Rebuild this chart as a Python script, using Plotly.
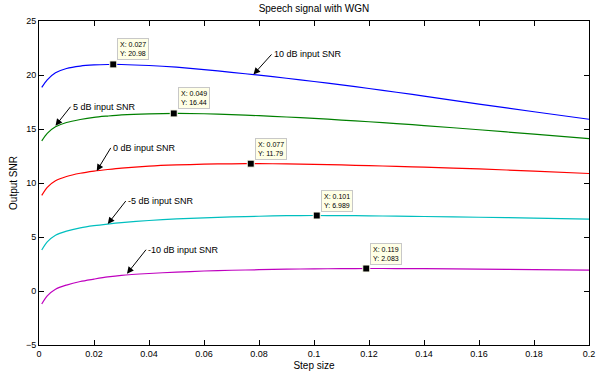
import plotly.graph_objects as go

# ---- data ----
step_size = [0.001, 0.003, 0.006, 0.01, 0.015, 0.02, 0.025, 0.03, 0.04, 0.05, 0.06,
             0.07, 0.08, 0.09, 0.1, 0.11, 0.12, 0.13, 0.14, 0.16, 0.18, 0.2]

snr_10db = [18.85, 19.55, 20.2, 20.6, 20.83, 20.93, 20.97, 20.97, 20.88, 20.72, 20.5,
            20.25, 19.98, 19.7, 19.4, 19.08, 18.75, 18.4, 18.05, 17.3, 16.6, 15.9]
snr_5db = [13.9, 14.6, 15.2, 15.6, 15.88, 16.08, 16.2, 16.3, 16.4, 16.44, 16.41,
           16.33, 16.23, 16.11, 15.98, 15.83, 15.67, 15.5, 15.32, 14.93, 14.52, 14.1]
snr_0db = [8.85, 9.6, 10.2, 10.6, 10.9, 11.1, 11.25, 11.38, 11.56, 11.67, 11.74,
           11.78, 11.79, 11.77, 11.73, 11.67, 11.61, 11.54, 11.47, 11.3, 11.1, 10.88]
snr_m5db = [3.8, 4.55, 5.17, 5.55, 5.85, 6.05, 6.2, 6.33, 6.53, 6.67, 6.78,
            6.86, 6.92, 6.97, 6.99, 6.98, 6.96, 6.93, 6.9, 6.83, 6.75, 6.65]
snr_m10db = [-1.2, -0.45, 0.17, 0.55, 0.88, 1.1, 1.3, 1.45, 1.62, 1.75, 1.85,
             1.92, 1.97, 2.02, 2.05, 2.07, 2.083, 2.08, 2.07, 2.03, 1.98, 1.93]

series_names = ["10 dB input SNR", "5 dB input SNR", "0 dB input SNR",
                "-5 dB input SNR", "-10 dB input SNR"]
series_colors = ["#0000ff", "#008000", "#ff0000", "#00bfbf", "#bf00bf"]

# data tips (peaks)
peak_x = [0.027, 0.049, 0.077, 0.101, 0.119]
peak_y = [20.98, 16.44, 11.79, 6.989, 2.083]
peak_x_text = ["0.027", "0.049", "0.077", "0.101", "0.119"]
peak_y_text = ["20.98", "16.44", "11.79", "6.989", "2.083"]

# arrow tip points for the labels
arrow_x = [0.078, 0.006, 0.021, 0.025, 0.032]
arrow_y = [20.05, 15.3, 11.12, 6.2, 1.6]
# pixel offsets of the text tail relative to tip
arrow_ax = [18, 15, 14, 18, 19]
arrow_ay = [-20, -19, -23, -23, -24]

x_ticks = [0, 0.02, 0.04, 0.06, 0.08, 0.1, 0.12, 0.14, 0.16, 0.18, 0.2]
x_tick_labels = ["0", "0.02", "0.04", "0.06", "0.08", "0.1", "0.12", "0.14", "0.16", "0.18", "0.2"]
y_ticks = [-5, 0, 5, 10, 15, 20, 25]

FONT = "Liberation Sans, Arial, Helvetica, sans-serif"

fig = go.Figure()
all_series = [snr_10db, snr_5db, snr_0db, snr_m5db, snr_m10db]
for name, ys, col in zip(series_names, all_series, series_colors):
    fig.add_trace(go.Scatter(x=step_size, y=ys, mode="lines", name=name,
                             line=dict(color=col, width=1.2, shape="spline", smoothing=0.8),
                             hoverinfo="skip"))

fig.add_trace(go.Scatter(x=peak_x, y=peak_y, mode="markers",
                         marker=dict(symbol="square", size=7, color="black",
                                     line=dict(color="#fffff0", width=1)),
                         hoverinfo="skip"))

annotations = []
for px, py, xt, yt in zip(peak_x, peak_y, peak_x_text, peak_y_text):
    annotations.append(dict(
        x=px, y=py, xref="x", yref="y", showarrow=False,
        text=f"X: {xt}<br>Y: {yt}", align="left",
        xanchor="left", yanchor="bottom", xshift=4, yshift=4,
        font=dict(family=FONT, size=7, color="black"),
        bgcolor="#ffffe6", bordercolor="#c8c8c8", borderwidth=1, borderpad=2))

for name, ax_, ay_, tx, ty in zip(series_names, arrow_x, arrow_y, arrow_ax, arrow_ay):
    annotations.append(dict(
        x=ax_, y=ay_, xref="x", yref="y", showarrow=True,
        ax=tx, ay=ty, axref="pixel", ayref="pixel",
        text=name, xanchor="left", yanchor="middle",
        font=dict(family=FONT, size=9, color="black"),
        arrowhead=2, arrowsize=1.35, arrowwidth=1, arrowcolor="black"))

fig.update_layout(
    width=612, height=375,
    margin=dict(l=39, r=23, t=21, b=30, autoexpand=False),
    paper_bgcolor="white", plot_bgcolor="white",
    showlegend=False,
    font=dict(family=FONT, size=9, color="black"),
    title=dict(text="Speech signal with WGN", x=0.513, xanchor="center",
               y=0.988, yanchor="top", automargin=False,
               font=dict(family=FONT, size=10, color="black")),
    annotations=annotations,
)

fig.update_xaxes(range=[0, 0.2], tickvals=x_ticks, ticktext=x_tick_labels,
                 ticks="inside", ticklen=5, tickcolor="black", tickwidth=1,
                 showline=True, linecolor="black", linewidth=1, mirror="ticks",
                 showgrid=False, zeroline=False, automargin=False,
                 tickfont=dict(family=FONT, size=9, color="black"),
                 title=dict(text="Step size", standoff=4,
                            font=dict(family=FONT, size=10, color="black")))
fig.update_yaxes(range=[-5, 25], tickvals=y_ticks,
                 ticks="inside", ticklen=5, tickcolor="black", tickwidth=1,
                 showline=True, linecolor="black", linewidth=1, mirror="ticks",
                 showgrid=False, zeroline=False, automargin=False,
                 tickfont=dict(family=FONT, size=9, color="black"),
                 title=dict(text="Output SNR", standoff=6,
                            font=dict(family=FONT, size=10, color="black")))

fig.write_html("out.html", config={"displayModeBar": False},
               post_script="document.body.style.margin='0';")
